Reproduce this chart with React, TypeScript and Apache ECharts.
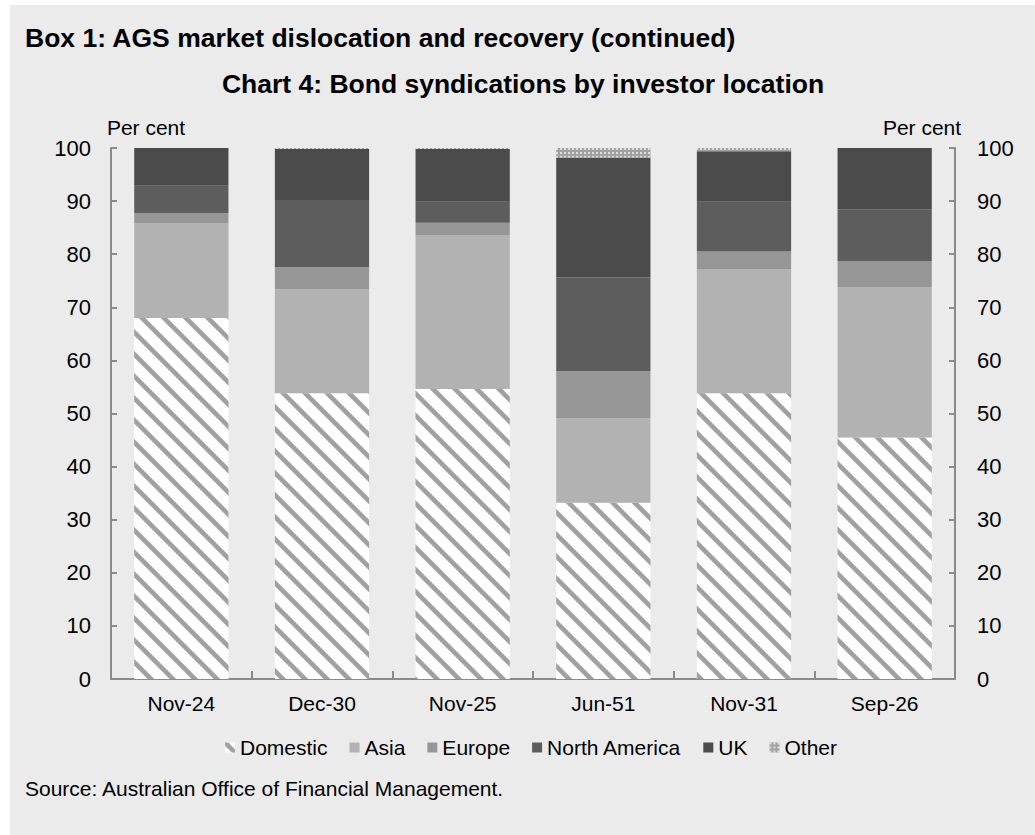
import React, { useEffect, useRef } from 'react';
import * as echarts from 'echarts';

const categories = ['Nov-24', 'Dec-30', 'Nov-25', 'Jun-51', 'Nov-31', 'Sep-26'];
const domestic = [68.0, 53.8, 54.6, 33.2, 53.8, 45.5];
const asia = [17.8, 19.6, 28.9, 15.9, 23.3, 28.3];
const europe = [1.9, 4.2, 2.4, 8.9, 3.4, 4.9];
const northAmerica = [5.2, 12.6, 4.0, 17.6, 9.4, 9.7];
const uk = [7.1, 9.6, 9.9, 22.6, 9.5, 11.6];
const other = [0, 0.2, 0.2, 1.8, 0.6, 0];
const seriesNames = ['Domestic', 'Asia', 'Europe', 'North America', 'UK', 'Other'];

const FONT = '"Liberation Sans", Arial, Helvetica, sans-serif';

const svgUrl = (s: string) => 'data:image/svg+xml;charset=utf-8,' + encodeURIComponent(s);

const hatchSvg =
  "<svg xmlns='http://www.w3.org/2000/svg' width='22' height='22'>" +
  "<rect width='22' height='22' fill='#ffffff'/>" +
  "<path d='M-3,-3L25,25M-14,8L14,36M8,-14L36,14' stroke='#a0a0a0' stroke-width='4.6'/></svg>";

const dotSvg =
  "<svg xmlns='http://www.w3.org/2000/svg' width='4' height='4'>" +
  "<rect width='4' height='4' fill='#a2a2a2'/>" +
  "<rect x='0' y='0' width='2' height='2' fill='#dcdcdc'/></svg>";

export default function App() {
  const ref = useRef<HTMLDivElement>(null);

  useEffect(() => {
    if (!ref.current) return;
    const chart = echarts.init(ref.current, null, { renderer: 'svg' });

    const hatch: any = { image: svgUrl(hatchSvg), repeat: 'repeat', imageWidth: 22, imageHeight: 22 };
    const dots: any = { image: svgUrl(dotSvg), repeat: 'repeat', imageWidth: 4, imageHeight: 4 };

    const values = [domestic, asia, europe, northAmerica, uk, other];
    const colors: any[] = [hatch, '#b2b2b2', '#969696', '#5d5d5d', '#4b4b4b', dots];

    const axisLineStyle = { color: '#8a8a8a', width: 2 };
    const labelStyle = { color: '#000', fontSize: 21, fontFamily: FONT };

    const yAxisBase = {
      type: 'value',
      min: 0,
      max: 100,
      interval: 10,
      splitLine: { show: false },
      axisLine: { show: true, lineStyle: axisLineStyle },
      axisTick: { show: true, inside: true, length: 6, lineStyle: axisLineStyle },
    };

    chart.setOption({
      animation: false,
      textStyle: { fontFamily: FONT },
      grid: { left: 111, right: 80, top: 148, bottom: 156, containLabel: false },
      legend: {
        left: 220,
        top: 732,
        itemWidth: 10,
        itemHeight: 10,
        itemGap: 22,
        icon: 'rect',
        data: seriesNames,
        textStyle: { color: '#000', fontSize: 21, fontFamily: FONT },
      },
      xAxis: {
        type: 'category',
        data: categories,
        axisLine: { lineStyle: axisLineStyle },
        axisTick: { show: true, inside: true, length: 8, lineStyle: axisLineStyle },
        axisLabel: { ...labelStyle, margin: 14 },
      },
      yAxis: [
        { ...yAxisBase, position: 'left', axisLabel: { ...labelStyle, fontSize: 22, margin: 20 } },
        { ...yAxisBase, position: 'right', axisLabel: { ...labelStyle, fontSize: 22, margin: 22 } },
      ],
      series: seriesNames.map((name, i) => ({
        name,
        type: 'bar',
        stack: 'total',
        barWidth: '67%',
        data: values[i],
        itemStyle: { color: colors[i] },
        emphasis: { disabled: true },
      })),
      graphic: [
        {
          type: 'text',
          left: 25,
          top: 24,
          style: { text: 'Box 1: AGS market dislocation and recovery (continued)', fontSize: 26.5, fontWeight: 'bold', fill: '#000', fontFamily: FONT },
        },
        {
          type: 'text',
          x: 523,
          y: 70,
          style: { text: 'Chart 4: Bond syndications by investor location', fontSize: 26.5, fontWeight: 'bold', fill: '#000', fontFamily: FONT, align: 'center' },
        },
        {
          type: 'text',
          x: 146,
          y: 117,
          style: { text: 'Per cent', fontSize: 21, fill: '#000', fontFamily: FONT, align: 'center' },
        },
        {
          type: 'text',
          x: 922,
          y: 117,
          style: { text: 'Per cent', fontSize: 21, fill: '#000', fontFamily: FONT, align: 'center' },
        },
        {
          type: 'text',
          left: 25,
          top: 778,
          style: { text: 'Source: Australian Office of Financial Management.', fontSize: 21, fill: '#000', fontFamily: FONT },
        },
      ],
    });

    return () => chart.dispose();
  }, []);

  return (
    <div style={{ position: 'absolute', left: 0, top: 0, width: 1035, height: 835, background: '#ffffff' }}>
      <div style={{ position: 'absolute', left: 10, top: 5, width: 1025, height: 830, background: '#ebebeb' }} />
      <div ref={ref} style={{ position: 'absolute', left: 0, top: 0, width: 1035, height: 835 }} />
    </div>
  );
}
